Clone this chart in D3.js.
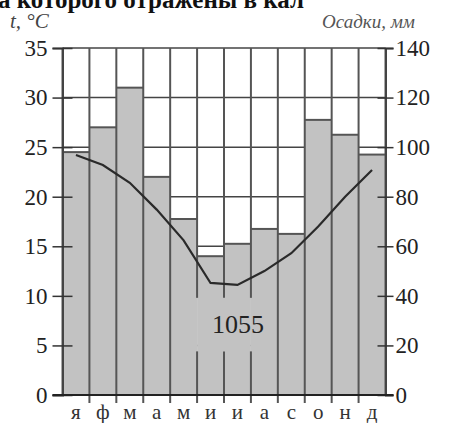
<!DOCTYPE html>
<html>
<head>
<meta charset="utf-8">
<script src="https://cdn.jsdelivr.net/npm/d3@7"></script>
<style>
  body { margin: 0; background: #fff; }
  svg { display: block; }
</style>
</head>
<body>
<script>
// climate chart data
var months = ['я', 'ф', 'м', 'а', 'м', 'и', 'и', 'а', 'с', 'о', 'н', 'д'];
var precip = [98, 108, 124, 88, 71, 56, 61, 67, 65, 111, 105, 97];   // mm
var temps  = [24.2, 23.2, 21.4, 18.7, 15.6, 11.3, 11.1, 12.5, 14.3, 17.0, 20.0, 22.7]; // °C
var tempTicks   = [0, 5, 10, 15, 20, 25, 30, 35];
var precipTicks = [0, 20, 40, 60, 80, 100, 120, 140];
var total = '1055';

var width = 450, height = 423;
// note: "top" is taken by window.top, so plot edges get their own names
var plotLeft = 62.5, plotRight = 385.5, plotTop = 48, plotBottom = 395;

var svg = d3.select('body')
  .append('svg')
  .attr('width', width)
  .attr('height', height);

var x = d3.scaleBand().domain(d3.range(12)).range([plotLeft, plotRight]).padding(0);
var yT = d3.scaleLinear().domain([0, 35]).range([plotBottom, plotTop]);
var yP = d3.scaleLinear().domain([0, 140]).range([plotBottom, plotTop]);

var serif = '"Liberation Serif", "DejaVu Serif", serif';

// title (cut off at top)
svg.append('text')
  .attr('x', -2).attr('y', 8)
  .attr('font-family', serif).attr('font-weight', 'bold')
  .attr('font-size', 25).attr('fill', '#111')
  .text('а которого отражены в кал');

// grid
svg.selectAll('.grid').data(tempTicks.slice(1)).enter()
  .append('line')
  .attr('x1', plotLeft).attr('x2', plotRight)
  .attr('y1', d => yT(d)).attr('y2', d => yT(d))
  .attr('stroke', '#444').attr('stroke-width', 1.5);

// bars
svg.selectAll('.bar').data(precip).enter()
  .append('rect')
  .attr('x', (d, i) => x(i))
  .attr('width', x.bandwidth())
  .attr('y', d => yP(d))
  .attr('height', d => plotBottom - yP(d))
  .attr('fill', '#c2c2c2');

svg.selectAll('.bartop').data(precip).enter()
  .append('line')
  .attr('x1', (d, i) => x(i)).attr('x2', (d, i) => x(i) + x.bandwidth())
  .attr('y1', d => yP(d)).attr('y2', d => yP(d))
  .attr('stroke', '#555').attr('stroke-width', 2);

// vertical month separators, broken around the total label
var gapHi = yT(9.8), gapLo = yT(4.4);
d3.range(13).forEach(function (i) {
  var xx = i < 12 ? x(i) : plotRight;
  var broken = (i >= 5 && i <= 7);
  var segs = broken ? [[plotTop, gapHi], [gapLo, plotBottom + 8]] : [[plotTop, plotBottom + 8]];
  if (i === 0 || i === 12) segs = [[plotTop, plotBottom]];
  segs.forEach(function (s) {
    svg.append('line')
      .attr('x1', xx).attr('x2', xx)
      .attr('y1', s[0]).attr('y2', s[1])
      .attr('stroke', '#555').attr('stroke-width', 2);
  });
});

// axes
var axL = svg.append('g').attr('transform', 'translate(' + plotLeft + ',0)')
  .call(d3.axisLeft(yT).tickValues(tempTicks).tickSize(10).tickPadding(5));
var axR = svg.append('g').attr('transform', 'translate(' + plotRight + ',0)')
  .call(d3.axisRight(yP).tickValues(precipTicks).tickSize(8).tickPadding(2));

[axL, axR].forEach(function (g) {
  g.select('.domain').attr('stroke', '#444').attr('stroke-width', 2);
  g.selectAll('.tick line').attr('stroke', '#333').attr('stroke-width', 1.5);
  g.selectAll('.tick text')
    .attr('font-family', serif).attr('font-size', 23).attr('fill', '#222');
});
// ticks crossing the axes
axL.selectAll('.tick line').attr('x1', 10);
axR.selectAll('.tick line').attr('x1', -8);

// x axis line
svg.append('line')
  .attr('x1', plotLeft - 10).attr('x2', plotRight + 8)
  .attr('y1', plotBottom).attr('y2', plotBottom)
  .attr('stroke', '#222').attr('stroke-width', 2);

// month labels
svg.selectAll('.month').data(months).enter()
  .append('text')
  .attr('x', (d, i) => x(i) + x.bandwidth() / 2)
  .attr('y', 419)
  .attr('text-anchor', 'middle')
  .attr('font-family', serif).attr('font-size', 21).attr('fill', '#333')
  .text(d => d);

// temperature line
var line = d3.line()
  .x((d, i) => x(i) + x.bandwidth() / 2)
  .y(d => yT(d));
svg.append('path')
  .datum(temps)
  .attr('d', line)
  .attr('fill', 'none')
  .attr('stroke', '#2a2a2a')
  .attr('stroke-width', 2.2);

// total precipitation
svg.append('text')
  .attr('x', (x(5) + x(7) + x.bandwidth()) / 2 + 0.5)
  .attr('y', 333)
  .attr('text-anchor', 'middle')
  .attr('font-family', serif).attr('font-size', 26).attr('fill', '#222')
  .text(total);

// axis titles
svg.append('text')
  .attr('x', 10).attr('y', 28)
  .attr('font-family', serif).attr('font-style', 'italic')
  .attr('font-size', 21).attr('fill', '#444')
  .text('t, °C');
svg.append('text')
  .attr('x', 322).attr('y', 28)
  .attr('font-family', serif).attr('font-style', 'italic')
  .attr('font-size', 19).attr('fill', '#555')
  .text('Осадки, мм');
</script>
</body>
</html>
